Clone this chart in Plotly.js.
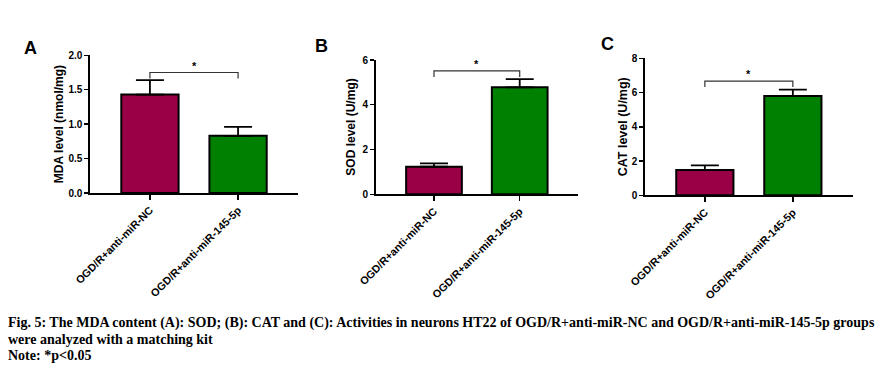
<!DOCTYPE html>
<html>
<head>
<meta charset="utf-8">
<script src="https://cdn.plot.ly/plotly-3.0.1.min.js"></script>
<style>html,body{margin:0;padding:0;background:#fff;}#chart{width:885px;height:377px;}</style>
</head>
<body>
<div id="chart"></div>
<script>
// ---- data ----
const groups = ["OGD/R+anti-miR-NC", "OGD/R+anti-miR-145-5p"];
const barColors = ["#990045", "#008000"];
const mdaValues = [1.43, 0.83];
const mdaErrors = [0.21, 0.13];
const sodValues = [1.23, 4.78];
const sodErrors = [0.15, 0.37];
const catValues = [1.48, 5.80];
const catErrors = [0.27, 0.37];
const sigLevels = [1.75, 5.51, 6.67];   // heights of the significance brackets
const panelLetters = ["A", "B", "C"];
const yTitles = ["MDA level (nmol/mg)", "SOD level (U/mg)", "CAT level (U/mg)"];
const yRanges = [[0, 2], [0, 6], [0, 8]];
const yDticks = [0.5, 2, 2];
const yFormats = [".1f", "d", "d"];
const captionLines = [
  "Fig. 5: The MDA content (A): SOD; (B): CAT and (C): Activities in neurons HT22 of OGD/R+anti-miR-NC and OGD/R+anti-miR-145-5p groups",
  "were analyzed with a matching kit",
  "Note: *p<0.05"
];

const W = 885, H = 377;
const px = x => x / W;
const py = y => 1 - y / H;

// panel geometry (pixels)
const panels = [
  {x0: 90, x1: 298, yTop: 55.3, yBot: 193, letterX: 30, letterY: 48.5, titleX: 59, font: 12},
  {x0: 375.7, x1: 578, yTop: 60, yBot: 194.3, letterX: 321, letterY: 45.5, titleX: 351.5, font: 12},
  {x0: 645, x1: 852.7, yTop: 58.3, yBot: 195.3, letterX: 607, letterY: 44, titleX: 622.5, font: 12.5}
];
const values = [mdaValues, sodValues, catValues];
const errors = [mdaErrors, sodErrors, catErrors];

const traces = [];
const layout = {
  width: W, height: H,
  margin: {l: 0, r: 0, t: 0, b: 0},
  paper_bgcolor: "#fff", plot_bgcolor: "#fff",
  showlegend: false,
  font: {family: "Liberation Sans, Arial, sans-serif", color: "#000"},
  annotations: [], shapes: []
};

panels.forEach((p, i) => {
  const n = i + 1;
  const xa = "x" + (n === 1 ? "" : n), ya = "y" + (n === 1 ? "" : n);
  const xk = "xaxis" + (n === 1 ? "" : n), yk = "yaxis" + (n === 1 ? "" : n);
  traces.push({
    type: "bar", x: groups, y: values[i], xaxis: xa, yaxis: ya, width: 0.65,
    marker: {color: barColors, line: {color: "#000", width: 2}},
    error_y: {type: "data", symmetric: false, array: errors[i], arrayminus: errors[i].map(() => 0),
              color: "#000", thickness: 1.8, width: 14},
    hoverinfo: "skip"
  });
  layout[xk] = {
    domain: [px(p.x0), px(p.x1)], anchor: ya, type: "category",
    range: [-0.68, 1.68], showline: true, linecolor: "#000", linewidth: 1.6,
    ticks: "outside", ticklen: 5, tickwidth: 1.4, tickcolor: "#000",
    tickangle: -45, showgrid: false, zeroline: false, fixedrange: true,
    tickfont: {family: "Liberation Sans, Arial, sans-serif", size: 10.8, color: "#000", weight: "bold"}
  };
  layout[yk] = {
    domain: [py(p.yBot), py(p.yTop)], anchor: xa, range: yRanges[i], dtick: yDticks[i], tick0: 0,
    tickformat: yFormats[i], showline: true, linecolor: "#000", linewidth: 1.6,
    ticks: "outside", ticklen: 4, tickwidth: 1.4, tickcolor: "#000",
    showgrid: false, zeroline: false, fixedrange: true,
    tickfont: {family: "Liberation Sans, Arial, sans-serif", size: 10, color: "#000", weight: "bold"}
  };
  // panel letter
  layout.annotations.push({
    xref: "paper", yref: "paper", x: px(p.letterX), y: py(p.letterY), text: "<b>" + panelLetters[i] + "</b>",
    showarrow: false, xanchor: "center", yanchor: "middle",
    font: {family: "Liberation Sans, Arial, sans-serif", size: 18, color: "#000"}
  });
  // y title
  layout.annotations.push({
    xref: "paper", yref: "paper", x: px(p.titleX), y: py((p.yTop + p.yBot) / 2), text: "<b>" + yTitles[i] + "</b>",
    showarrow: false, textangle: -90, xanchor: "center", yanchor: "middle",
    font: {family: "Liberation Sans, Arial, sans-serif", size: p.font, color: "#000"}
  });
  // significance bracket
  const yr = yRanges[i][1] - yRanges[i][0];
  const drop = yr * 6 / (p.yBot - p.yTop);
  const s = sigLevels[i];
  layout.shapes.push({
    type: "path", xref: xa, yref: ya,
    path: `M 0 ${s - drop} L 0 ${s} L 1 ${s} L 1 ${s - drop}`,
    line: {color: "#333", width: 1.2}
  });
  layout.annotations.push({
    xref: xa, yref: ya, x: 0.5, y: s, text: "<b>*</b>", showarrow: false, yanchor: "bottom", yshift: -1,
    font: {family: "Liberation Sans, Arial, sans-serif", size: 11, color: "#000"}
  });
});

// caption
const capY = [323, 339, 355];
captionLines.forEach((t, k) => {
  layout.annotations.push({
    xref: "paper", yref: "paper", x: px(6), y: py(capY[k]), text: "<b>" + t.replace(/</g, "&lt;") + "</b>",
    showarrow: false, xanchor: "left", yanchor: "middle", align: "left",
    font: {family: "Liberation Serif, Times New Roman, serif", size: 14, color: "#000"}
  });
});

Plotly.newPlot("chart", traces, layout, {displayModeBar: false, staticPlot: true});
</script>
</body>
</html>
